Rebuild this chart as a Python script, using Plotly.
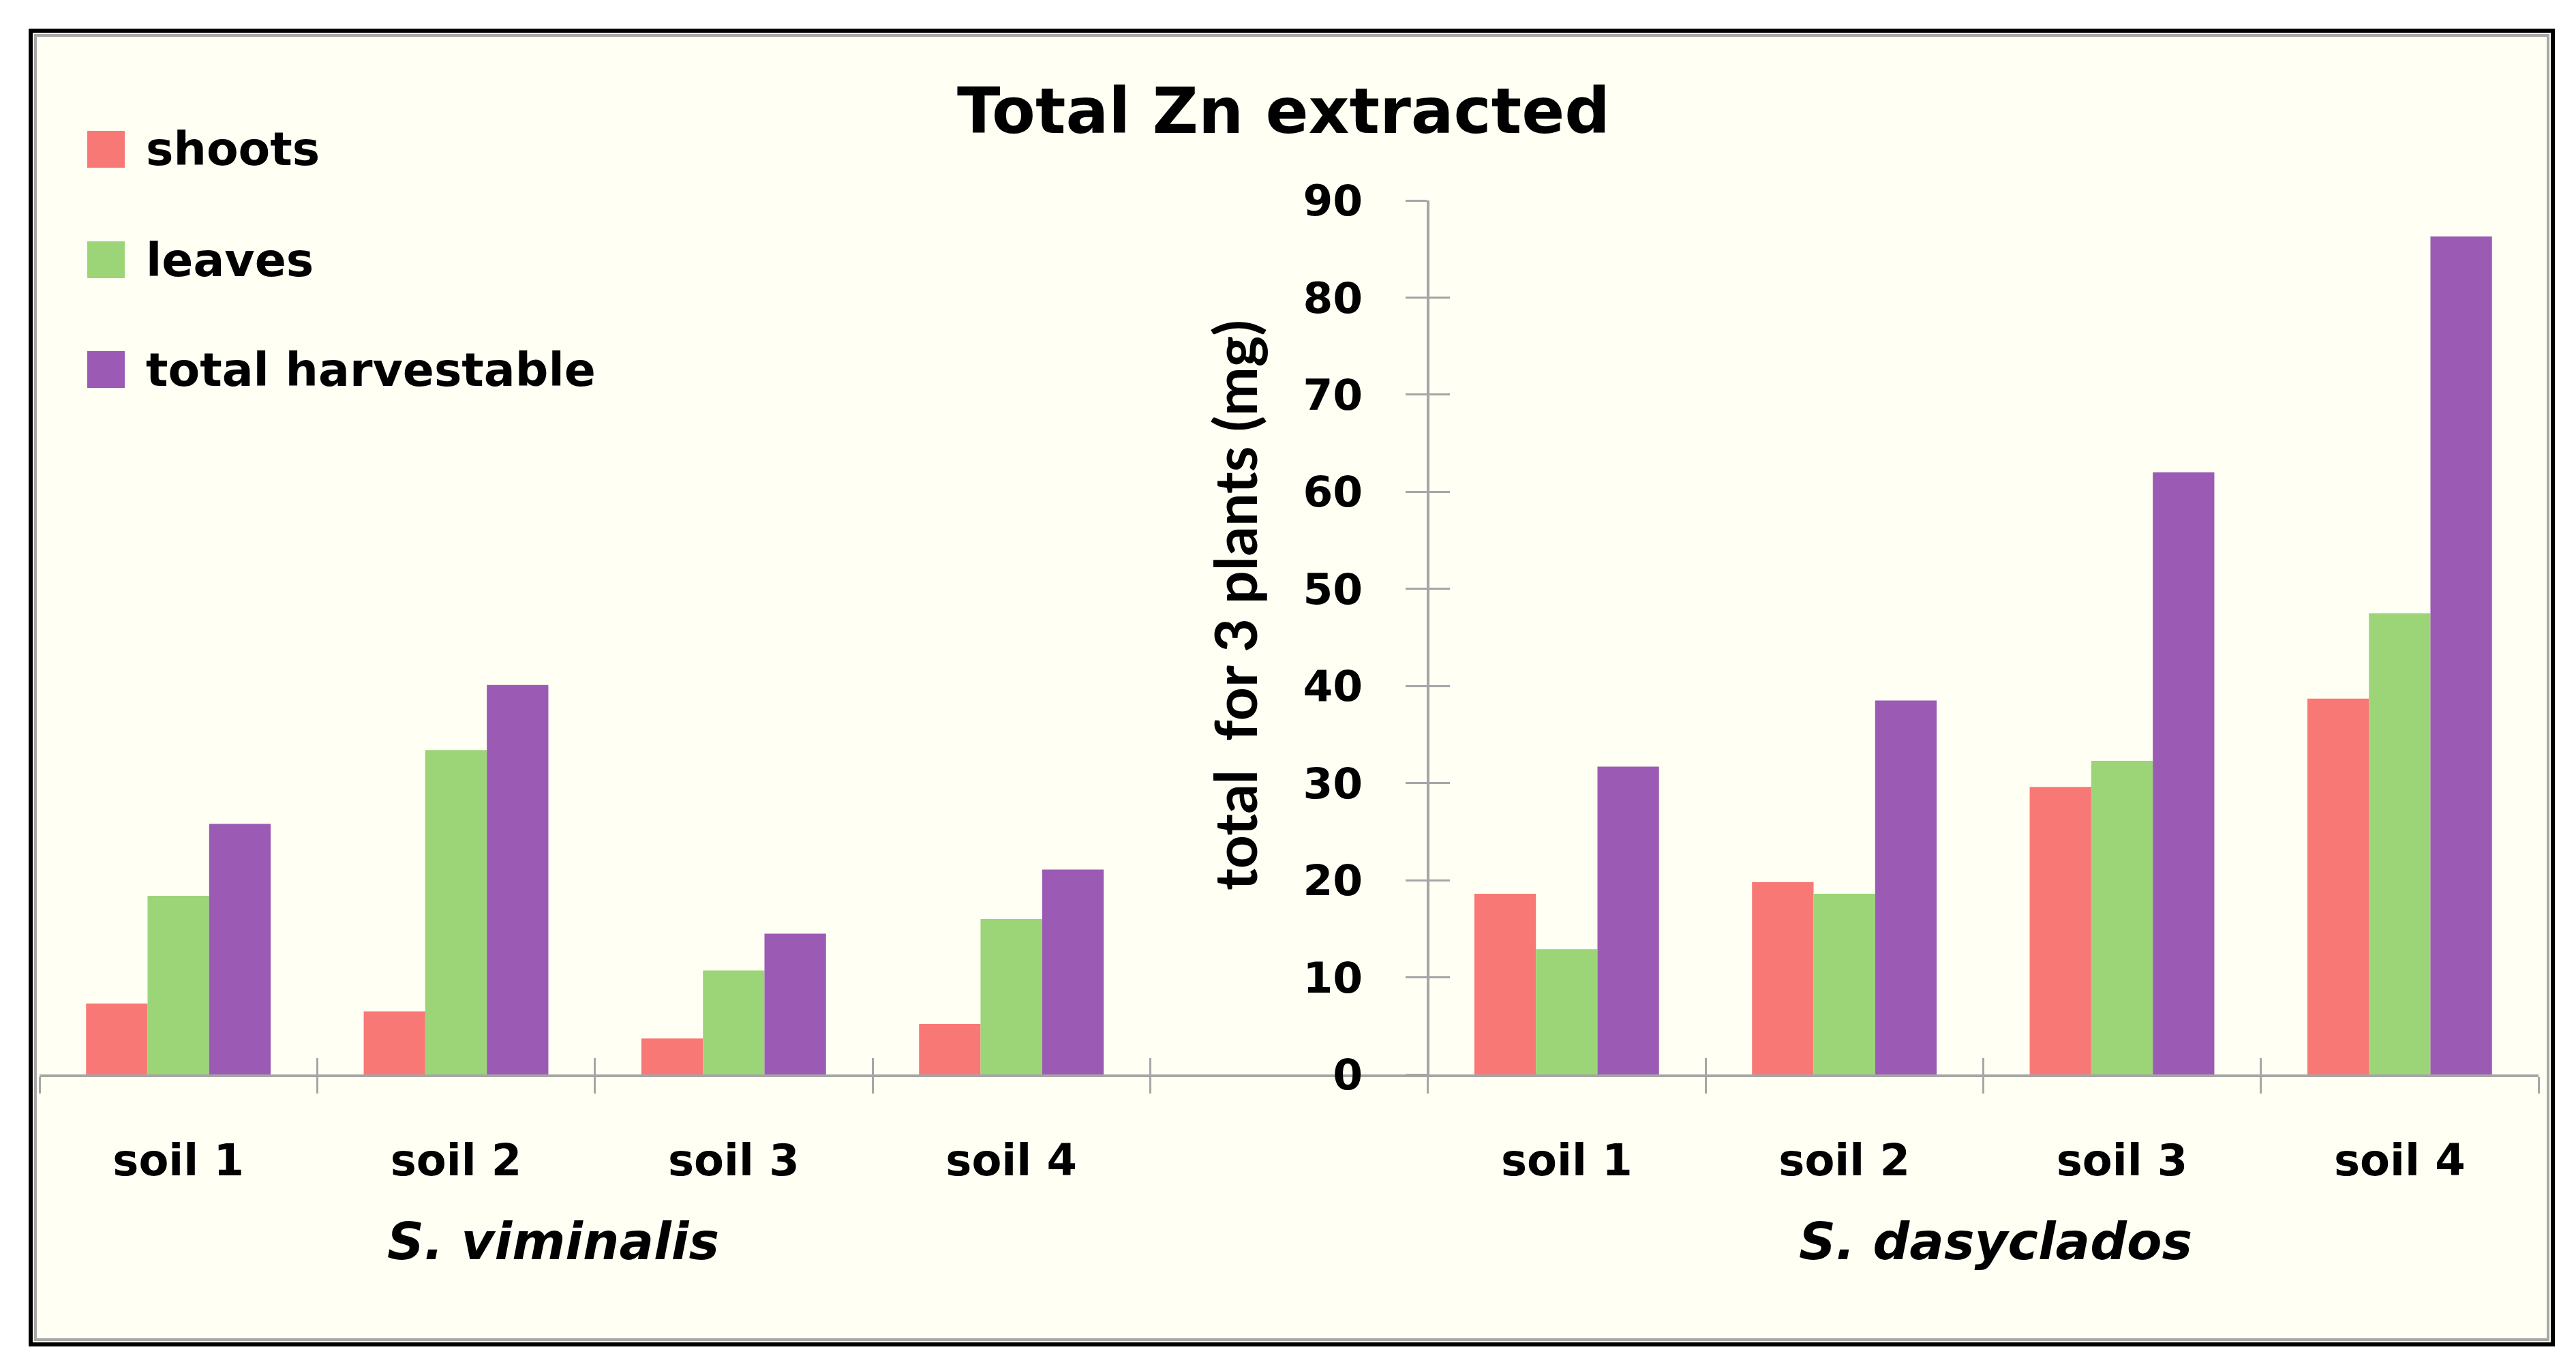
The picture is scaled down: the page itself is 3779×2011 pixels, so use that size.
import plotly.graph_objects as go

# ---------------- data ----------------
soils = ["soil 1", "soil 2", "soil 3", "soil 4"]
species = ["S. viminalis", "S. dasyclados"]
series_names = ["shoots", "leaves", "total harvestable"]
series_colors = ["#F87876", "#9BD578", "#9B5BB4"]

viminalis_shoots = [7.3, 6.5, 3.7, 5.2]
viminalis_leaves = [18.4, 33.4, 10.7, 16.0]
viminalis_total = [25.8, 40.1, 14.5, 21.1]

dasyclados_shoots = [18.6, 19.8, 29.6, 38.7]
dasyclados_leaves = [12.9, 18.6, 32.3, 47.5]
dasyclados_total = [31.7, 38.5, 62.0, 86.3]

y_ticks = [0, 10, 20, 30, 40, 50, 60, 70, 80, 90]

title_text = "Total Zn extracted"
y_title = "total  for 3 plants (mg)"

# ---------------- layout helpers ----------------
OFF = 8  # default page body margin
W, H = 3779 - 2 * OFF, 2011 - 2 * OFF
L, R, T, B = 58 - OFF, 3724 - OFF, 294 - OFF, 1576 - OFF


def px(x):
    return (x - OFF - L) / (R - L)


def py(y):
    return (B - (y - OFF)) / (B - T)


keys_vim = [f"{s}|{species[0]}" for s in soils]
keys_das = [f"{s}|{species[1]}" for s in soils]
gap_key = "gap"
categories = keys_vim + [gap_key] + keys_das
tick_text = soils + [""] + soils
x_keys = keys_vim + keys_das

series_values = [
    viminalis_shoots + dasyclados_shoots,
    viminalis_leaves + dasyclados_leaves,
    viminalis_total + dasyclados_total,
]

BOLD = "DejaVu Sans"
axis_gray = "#A6A6A6"

fig = go.Figure()
for name, color, vals in zip(series_names, series_colors, series_values):
    fig.add_trace(go.Bar(
        x=x_keys, y=vals, name=name, marker=dict(color=color, line=dict(width=0)),
        showlegend=False,
    ))

# helper trace to register categories on the overlay axes (draws nothing)
fig.add_trace(go.Scatter(
    x=categories, y=[None] * len(categories), xaxis="x2", yaxis="y2",
    mode="markers", showlegend=False, hoverinfo="skip",
))

yaxis_pos = len(keys_vim + [gap_key]) / len(categories)

common_x = dict(
    type="category", categoryorder="array", categoryarray=categories,
    range=[-0.5, len(categories) - 0.5], domain=[0, 1],
    tickson="boundaries", tickcolor=axis_gray, tickwidth=3, ticklen=24,
    showgrid=False, zeroline=False,
)

fig.update_layout(
    width=W, height=H,
    margin=dict(l=L, r=W - R, t=T, b=H - B),
    paper_bgcolor="white",
    plot_bgcolor="rgba(0,0,0,0)",
    bargap=0.335, bargroupgap=0,
    barmode="group",
    xaxis=dict(
        **common_x,
        anchor="y", ticks="outside",
        tickmode="array", tickvals=categories, ticktext=tick_text,
        tickfont=dict(family=BOLD, size=64, color="black", weight="bold"),
        ticklabelstandoff=67,
        showline=True, linecolor=axis_gray, linewidth=4,
    ),
    xaxis2=dict(
        **common_x,
        overlaying="x", anchor="y", side="bottom", ticks="inside",
        tickmode="array", tickvals=categories, ticktext=tick_text,
        showticklabels=False, showline=False,
    ),
    yaxis=dict(
        range=[0, 90], domain=[0, 1], anchor="free", position=yaxis_pos,
        tickmode="array", tickvals=y_ticks,
        ticks="outside", ticklen=31, tickwidth=3, tickcolor=axis_gray,
        tickfont=dict(family=BOLD, size=63, color="black", weight="bold"),
        ticklabelstandoff=50,
        showline=True, linecolor=axis_gray, linewidth=4,
        showgrid=False, zeroline=False,
    ),
    yaxis2=dict(
        range=[0, 90], domain=[0, 1], overlaying="y", anchor="free", position=yaxis_pos,
        side="left", tickmode="array", tickvals=y_ticks,
        ticks="inside", ticklen=31, tickwidth=3, tickcolor=axis_gray,
        showticklabels=False, showline=False, showgrid=False, zeroline=False,
    ),
    showlegend=False,
)

shapes = [
    dict(type="rect", xref="paper", yref="paper", layer="below",
         x0=px(45), x1=px(3745), y0=py(1972), y1=py(45),
         fillcolor="#FFFFF4", line=dict(color="black", width=6)),
    dict(type="rect", xref="paper", yref="paper", layer="below",
         x0=px(52), x1=px(3738), y0=py(1965), y1=py(52),
         fillcolor="rgba(0,0,0,0)", line=dict(color="#A8A8A8", width=4)),
]

annotations = [
    dict(text=title_text, xref="paper", yref="paper", x=px(1883), y=py(163),
         xanchor="center", yanchor="middle", showarrow=False,
         font=dict(family=BOLD, size=93, color="black", weight="bold")),
    dict(text=y_title, xref="paper", yref="paper", x=px(1810), y=py(888),
         xanchor="center", yanchor="middle", showarrow=False, textangle=-90,
         font=dict(family="Lato", size=86, color="black", weight="bold")),
    dict(text=f"<i>{species[0]}</i>", xref="paper", yref="paper", x=px(811), y=py(1821),
         xanchor="center", yanchor="middle", showarrow=False,
         font=dict(family=BOLD, size=75, color="black", weight="bold")),
    dict(text=f"<i>{species[1]}</i>", xref="paper", yref="paper", x=px(2927), y=py(1821),
         xanchor="center", yanchor="middle", showarrow=False,
         font=dict(family=BOLD, size=75, color="black", weight="bold")),
]

legend_y = [219, 381, 542]
for name, color, yc in zip(series_names, series_colors, legend_y):
    shapes.append(dict(type="rect", xref="paper", yref="paper",
                       x0=px(128), x1=px(183), y0=py(yc + 27), y1=py(yc - 27),
                       fillcolor=color, line=dict(width=0)))
    annotations.append(dict(text=name, xref="paper", yref="paper", x=px(212), y=py(yc),
                            xanchor="left", yanchor="middle", showarrow=False,
                            font=dict(family=BOLD, size=68, color="black", weight="bold")))

fig.update_layout(shapes=shapes, annotations=annotations)

fig.write_html("out.html")
